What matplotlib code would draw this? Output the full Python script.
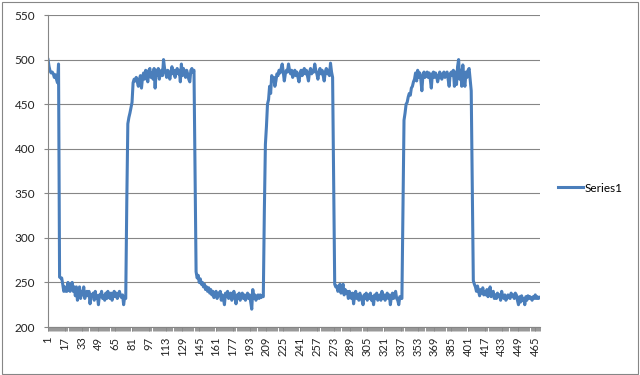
import numpy as np
import matplotlib
matplotlib.use('Agg')
import matplotlib.pyplot as plt
from matplotlib.patches import Rectangle

# readings, one list per stretch of the curve
high0 = [500, 492, 487, 485, 486, 484, 480, 483, 478, 474, 495]
low1 = [256, 255, 255, 248, 240, 245, 240, 240, 250, 242, 240, 248, 250, 240, 245, 235,
        245, 230, 240, 245, 232, 240, 236, 245, 232, 238, 240, 235, 240, 226, 236, 235,
        238, 230, 240, 232, 235, 225, 236, 234, 240, 232, 235, 230, 238, 232, 240, 235,
        232, 238, 230, 236, 240, 234, 238, 232, 236, 240, 235, 233, 236, 225, 234, 232]
rise1 = [340, 428, 435, 440, 446, 452, 474, 478, 476]
high1 = [480, 475, 470, 478, 482, 468, 480, 485, 478, 488, 482, 475, 488, 490, 480, 485,
         478, 490, 468, 488, 482, 490, 478, 485, 488, 482, 500, 490, 485, 480, 488, 484,
         478, 486, 492, 484, 488, 480, 486, 490, 484, 488, 475, 495, 482, 490, 485, 480,
         488, 484, 478, 475, 488, 490, 486, 488]
low2 = [380, 262, 255, 258, 250, 254, 248, 250, 245, 248, 242, 245, 240, 244, 238, 242,
        236, 240, 233, 238, 240, 232, 238, 235, 240, 230, 236, 232, 225, 238, 234, 240,
        232, 236, 238, 230, 236, 240, 234, 226, 236, 232, 238, 230, 234, 238, 232, 236,
        230, 234, 238, 232, 236, 228, 220, 242, 232, 236, 230, 234, 236, 232, 236, 233,
        235, 234]
rise2 = [330, 405, 425, 450, 455, 470, 462, 482, 478, 480, 470]
high2 = [476, 484, 482, 488, 485, 490, 495, 486, 476, 484, 488, 486, 495, 488, 484, 488,
         480, 485, 488, 482, 486, 480, 475, 484, 488, 482, 486, 490, 484, 488, 482, 476,
         486, 490, 484, 488, 486, 495, 488, 484, 478, 486, 490, 484, 488, 482, 476, 486,
         490, 484, 488, 482, 496, 486, 480]
low3 = [360, 248, 245, 246, 240, 244, 248, 238, 244, 248, 236, 242, 238, 240, 232, 240,
        236, 232, 238, 226, 236, 240, 232, 236, 230, 238, 234, 230, 225, 236, 232, 238,
        230, 236, 232, 238, 230, 234, 225, 236, 232, 238, 230, 234, 236, 230, 240, 232,
        236, 230, 234, 238, 232, 236, 225, 234, 238, 232, 236, 240, 232, 230, 225, 234,
        232, 232]
rise3 = [330, 432, 440, 450, 452, 458, 462, 460, 468, 470, 475, 478, 485]
high3 = [476, 488, 480, 485, 478, 465, 482, 486, 480, 484, 486, 480, 485, 478, 468, 484,
         486, 480, 485, 482, 475, 480, 486, 482, 478, 484, 486, 480, 484, 486, 478, 470,
         484, 486, 482, 488, 470, 486, 472, 492, 500, 478, 488, 470, 494, 476, 470, 486,
         480, 488, 490, 478, 465]
low4 = [360, 252, 248, 245, 240, 246, 240, 235, 242, 238, 244, 236, 240, 236, 242, 234,
        238, 245, 234, 238, 240, 232, 236, 232, 238, 234, 236, 230, 240, 234, 232, 236,
        230, 232, 236, 234, 232, 238, 234, 236, 232, 238, 236, 230, 225, 234, 228, 235,
        230, 232, 225, 234, 230, 235, 232, 234, 232, 230, 234, 232, 236, 232, 234, 232,
        233]

series_name = 'Series1'
y_ticks = [200, 250, 300, 350, 400, 450, 500, 550]
label_step = 16

values = (high0 + low1 + rise1 + high1 + low2 + rise2 + high2 +
          low3 + rise3 + high3 + low4)
cats = np.arange(1, len(values) + 1)

plt.rcParams['font.family'] = ['Lato', 'DejaVu Sans']
grey = '#868686'

fig = plt.figure(figsize=(6.4, 3.75), dpi=100)
fig.patch.set_facecolor('white')
fig.patches.append(Rectangle((1.5 / 640, 1.5 / 375), 636 / 640, 372 / 375,
                             transform=fig.transFigure, fill=False,
                             edgecolor=grey, linewidth=0.8))

ax = fig.add_axes([47.5 / 640, 48 / 375, 492.5 / 640, 312 / 375])
line, = ax.plot(cats, values, color='#4A7EBB', linewidth=2.2,
                solid_joinstyle='round', label=series_name)

ax.set_xlim(0.5, len(values) + 0.5)
ax.set_ylim(y_ticks[0], y_ticks[-1])
ax.set_yticks(y_ticks)
ax.set_xticks(cats[::label_step])
ax.set_xticklabels([str(c) for c in cats[::label_step]], rotation=90)
ax.set_xticks(np.arange(0.5, len(values) + 1, 1), minor=True)

ax.yaxis.grid(True, color=grey, linewidth=0.8)
ax.set_axisbelow(True)
for side in ['top', 'right']:
    ax.spines[side].set_visible(False)
for side in ['left', 'bottom']:
    ax.spines[side].set_color(grey)
    ax.spines[side].set_linewidth(0.8)

ax.tick_params(axis='y', length=3, width=0.8, color=grey, pad=6,
               labelsize=8.5, labelcolor='#222222')
ax.tick_params(axis='x', which='major', length=3, width=0.6, color=grey, pad=4,
               labelsize=8, labelcolor='#222222')
ax.tick_params(axis='x', which='minor', length=3, width=0.6, color=grey)

fig.legend(handles=[line], loc='center left', bbox_to_anchor=(558 / 640, 1 - 188 / 375),
           frameon=False, fontsize=8.5, handlelength=2.1, handletextpad=0.15,
           borderpad=0, borderaxespad=0)

fig.savefig('out.png', dpi=100)
